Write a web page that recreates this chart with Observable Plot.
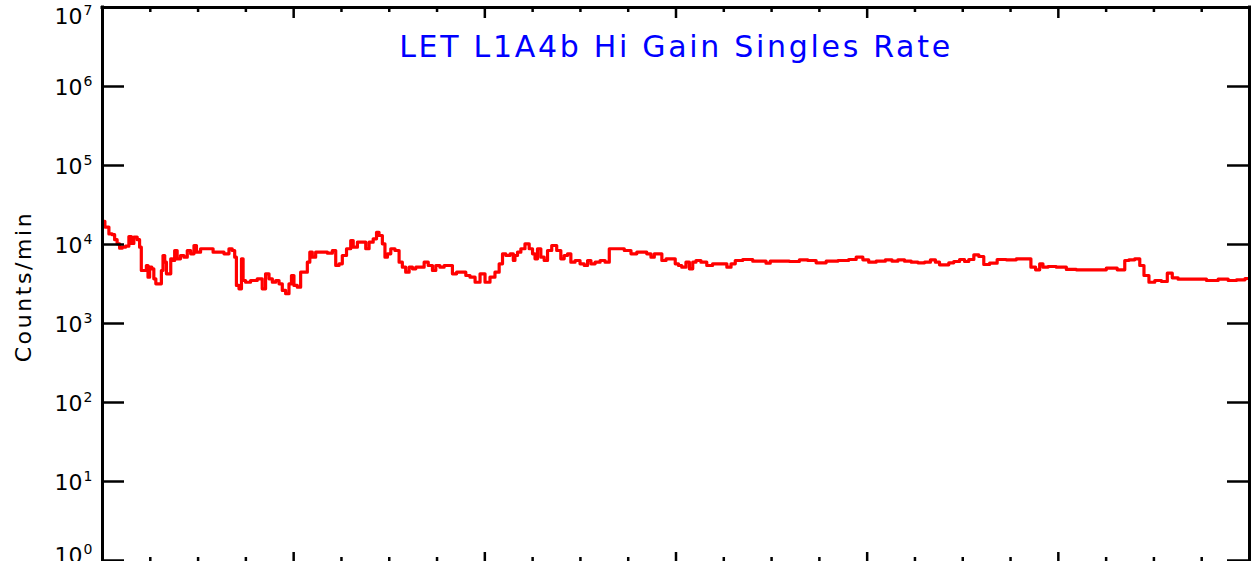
<!DOCTYPE html>
<html><head><meta charset="utf-8">
<script src="https://cdn.jsdelivr.net/npm/d3@7"></script>
<script src="https://cdn.jsdelivr.net/npm/@observablehq/plot@0.6"></script>
<style>
html,body{margin:0;padding:0;background:#fff;overflow:hidden;}
</style></head><body><div id="chart"></div>
<script>
const title = "LET L1A4b Hi Gain Singles Rate";
const yLabel = "Counts/min";
const decades = [1,10,100,1000,10000,100000,1000000,10000000];
const exponents = ["0","1","2","3","4","5","6","7"];
const xMajor = [1,2,3,4,5];
const xMinor = [0.25,0.5,0.75,1.25,1.5,1.75,2.25,2.5,2.75,3.25,3.5,3.75,4.25,4.5,4.75,5.25,5.5,5.75];

// time (days from start) and counts/min
const times = [
0.000,0.025,0.042,0.059,0.068,0.085,0.094,0.112,0.129,0.147,
0.155,0.173,0.190,0.198,0.208,0.225,0.234,0.242,0.251,0.265,
0.272,0.286,0.304,0.312,0.321,0.330,0.339,0.356,0.358,0.373,
0.382,0.399,0.417,0.435,0.452,0.470,0.487,0.496,0.530,0.565,
0.592,0.618,0.653,0.670,0.687,0.696,0.705,0.723,0.731,0.740,
0.757,0.792,0.827,0.844,0.862,0.880,0.897,0.915,0.932,0.949,
0.967,0.984,0.993,1.010,1.028,1.045,1.063,1.080,1.089,1.106,
1.124,1.159,1.194,1.211,1.229,1.246,1.263,1.290,1.307,1.316,
1.351,1.368,1.386,1.403,1.429,1.438,1.455,1.473,1.482,1.499,
1.517,1.543,1.560,1.577,1.595,1.613,1.630,1.648,1.674,1.691,
1.717,1.735,1.752,1.778,1.796,1.822,1.839,1.866,1.892,1.909,
1.936,1.962,1.988,2.014,2.040,2.066,2.084,2.101,2.119,2.145,
2.153,2.162,2.180,2.197,2.223,2.241,2.258,2.267,2.284,2.302,
2.319,2.337,2.363,2.389,2.406,2.424,2.441,2.459,2.485,2.511,
2.529,2.546,2.564,2.590,2.616,2.642,2.660,2.677,2.712,2.747,
2.782,2.808,2.834,2.860,2.878,2.895,2.913,2.939,2.957,2.983,
3.009,3.017,3.043,3.061,3.079,3.096,3.113,3.148,3.174,3.209,
3.253,3.279,3.297,3.323,3.375,3.428,3.462,3.480,3.506,3.567,
3.619,3.672,3.707,3.759,3.812,3.881,3.925,3.960,3.995,4.021,
4.073,4.117,4.143,4.178,4.213,4.248,4.283,4.318,4.344,4.370,
4.387,4.414,4.440,4.466,4.501,4.518,4.545,4.571,4.597,4.623,
4.658,4.702,4.754,4.806,4.845,4.868,4.894,4.911,4.928,4.963,
5.016,5.068,5.120,5.173,5.225,5.277,5.339,5.356,5.382,5.417,
5.435,5.461,5.487,5.522,5.557,5.583,5.609,5.644,5.696,5.749,
5.801,5.871,5.906,5.958,5.995];
const counts = [
19700,16600,13600,13300,11500,10200,8980,9250,9510,12600,
10300,12400,11500,9250,4690,4690,5420,3860,5160,4920,
3680,3180,3180,4690,7260,5970,4260,4260,6590,6270,
8400,6590,7260,6910,8400,7620,9710,8000,8830,8830,
8000,8000,7620,8830,8400,6910,3030,2750,6590,3500,
3330,3500,3680,2750,4260,3680,3330,3500,3180,2620,
2380,3180,4050,3030,2880,4460,4460,5970,8000,6910,
8000,8000,7760,8400,5420,5700,7260,8830,11200,9250,
10700,10700,8830,10700,11800,14300,13000,10200,6910,7620,
8830,8400,5970,5160,4460,5160,4920,5160,5160,5970,
5420,4690,5420,5160,5420,5420,4260,4460,4460,4050,
3860,3330,4260,3330,3860,4460,5700,7620,7260,7620,
6270,7260,8000,8830,10200,8830,7620,6590,8830,6910,
6270,8400,9710,8400,6590,7260,7620,5970,6270,5700,
5420,6270,5700,5970,6270,5970,8830,8830,8830,8400,
7620,8000,8000,7620,6910,7620,7620,6270,6590,6590,
5700,5420,5160,5970,4920,5970,6270,5970,5420,5700,
5700,5160,5700,6270,6460,6150,6150,5800,6150,6150,
6090,6400,6270,5870,6150,6270,6460,6910,6400,5970,
6150,6400,6150,6400,6150,5970,5870,5970,6400,5970,
5530,5530,5870,6090,6460,6090,6460,7410,7050,5580,
5800,6460,6400,6590,6590,5160,4780,5700,5160,5270,
5160,4830,4780,4780,4780,5010,4780,6270,6400,6590,
5420,4050,3330,3500,3400,4330,3790,3640,3640,3640,
3500,3640,3500,3570,3710];

const rows = times.map((t, i) => ({t, c: counts[i]}));

const W = 1252, H = 561, mL = 102, mR = 3, mT = 7, mB = 0;
const pw = W - mL - mR, ph = H - mT - mB;

function tickLabels(idx, dy) {
  const sub = idx.map(i => decades[i]);
  return [
    Plot.text(sub, {y: d => d, text: () => "10", frameAnchor: "left", textAnchor: "end",
      dx: -20, dy: dy + 1, fontSize: 22, lineAnchor: "middle", fill: "black"}),
    Plot.text(idx, {y: i => decades[i], text: i => exponents[i], frameAnchor: "left", textAnchor: "start",
      dx: -19, dy: dy - 5, fontSize: 14, lineAnchor: "middle", fill: "black"})
  ];
}

const chart = Plot.plot({
  width: W, height: H,
  marginLeft: mL, marginRight: mR, marginTop: mT, marginBottom: mB,
  x: {domain: [0, 6], axis: null},
  y: {type: "log", domain: [1, 1e7], range: [560, 7], axis: null},
  style: {fontFamily: "DejaVu Sans", background: "white", color: "black", overflow: "visible"},
  marks: [
    Plot.line(rows, {x: "t", y: "c", stroke: "#ff0000", strokeWidth: 3.2, curve: "step"}),
    // frame (bottom edge lies below the visible area)
    Plot.ruleX([0, 6], {stroke: "black", strokeWidth: 3, strokeLinecap: "square"}),
    Plot.ruleY([1e7], {stroke: "black", strokeWidth: 3, strokeLinecap: "square"}),
    // y ticks, left and right
    Plot.ruleY(decades, {stroke: "black", strokeWidth: 2.5, insetRight: pw - 22}),
    Plot.ruleY(decades, {stroke: "black", strokeWidth: 2.5, insetLeft: pw - 22}),
    // x ticks top
    Plot.ruleX(xMajor, {stroke: "black", strokeWidth: 2.5, insetBottom: ph - 11}),
    Plot.ruleX(xMinor, {stroke: "black", strokeWidth: 2.5, insetBottom: ph - 5}),
    // x ticks bottom
    Plot.ruleX(xMajor, {stroke: "black", strokeWidth: 2.5, insetTop: ph - 9}),
    Plot.ruleX(xMinor, {stroke: "black", strokeWidth: 2.5, insetTop: ph - 4}),
    // tick labels
    ...tickLabels([1,2,3,4,5,6], 0),
    ...tickLabels([7], 8),
    ...tickLabels([0], -6),
    // title & axis label
    Plot.text([title], {text: d => d, frameAnchor: "top", dy: 40, lineAnchor: "middle",
      fontSize: 30, fill: "#0000ff"}),
    Plot.text([yLabel], {text: d => d, frameAnchor: "left", dx: -72, dy: 2, rotate: -90,
      lineAnchor: "bottom", textAnchor: "middle", fontSize: 22, fill: "black"})
  ]
});
d3.select(chart).selectAll("text")
  .filter(function() { return this.textContent === title; })
  .style("letter-spacing", "2.7px");
d3.select(chart).selectAll("text")
  .filter(function() { return this.textContent === yLabel; })
  .style("letter-spacing", "2.6px");
document.getElementById("chart").appendChild(chart);
</script></body></html>
